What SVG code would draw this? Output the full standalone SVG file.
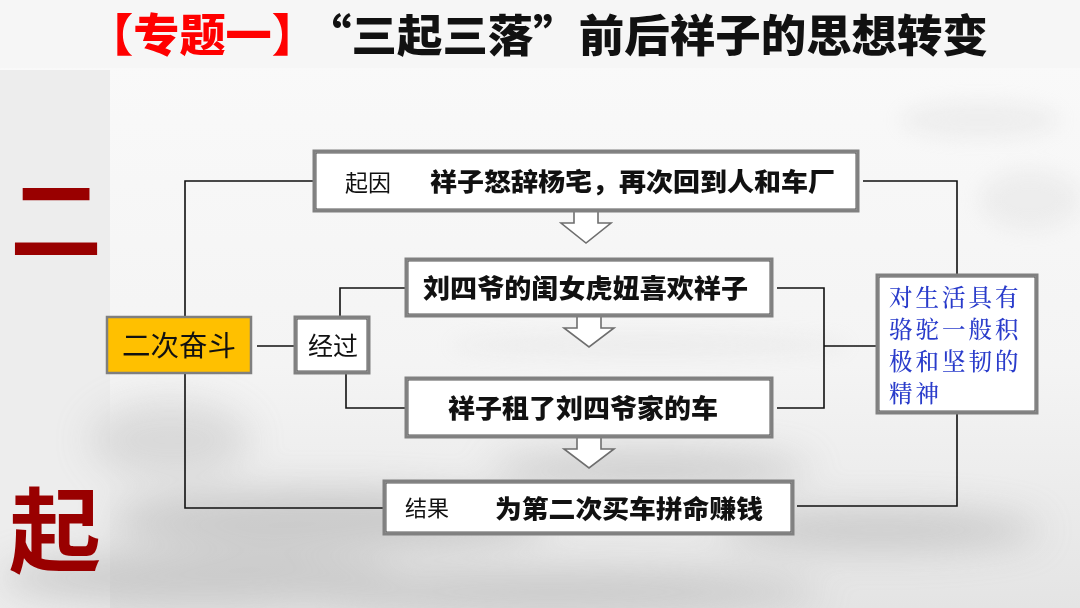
<svg xmlns="http://www.w3.org/2000/svg" width="1080" height="608" viewBox="0 0 1080 608">
<defs>
<style>
.box{fill:#ffffff;stroke:#808080;stroke-width:3}
.inner{fill:none;stroke:#2a2a2a;stroke-width:0.8}
.ln{fill:none;stroke:#111;stroke-width:1.6}
.arr{fill:#ffffff;stroke:#6e6e6e;stroke-width:1.6;stroke-linejoin:miter}
.cn{font-family:"Noto Sans CJK SC","Noto Sans CJK TC",sans-serif;fill:#111}
.b{font-weight:900}
.blue{font-family:"Noto Serif CJK SC","Noto Sans CJK SC",serif;fill:#2a3ccb;font-size:23.5px;letter-spacing:3px;font-weight:500}
</style>
<filter id="blur" x="-50%" y="-50%" width="200%" height="200%"><feGaussianBlur stdDeviation="18"/></filter>
<filter id="blur2" x="-50%" y="-50%" width="200%" height="200%"><feGaussianBlur stdDeviation="10"/></filter>
<linearGradient id="bg" x1="0" y1="0" x2="0" y2="1">
<stop offset="0" stop-color="#fafafa"/><stop offset="0.6" stop-color="#f4f4f4"/><stop offset="1" stop-color="#e4e4e4"/>
</linearGradient>
</defs>
<rect x="0" y="0" width="1080" height="608" fill="url(#bg)"/>
<rect x="0" y="70" width="110" height="538" fill="#ededed"/>
<g filter="url(#blur)" fill="#b5b5b5" opacity="0.6">
<ellipse cx="330" cy="520" rx="220" ry="30"/>
<ellipse cx="200" cy="578" rx="200" ry="25"/>
<ellipse cx="650" cy="470" rx="160" ry="18"/>
<ellipse cx="880" cy="530" rx="160" ry="20"/>
<ellipse cx="560" cy="592" rx="260" ry="20"/>
<ellipse cx="170" cy="440" rx="80" ry="40" opacity="0.6"/>
</g>
<g filter="url(#blur2)" fill="#d8d8d8" opacity="0.3">
<ellipse cx="650" cy="345" rx="200" ry="10"/>
<ellipse cx="980" cy="120" rx="80" ry="18"/>
<ellipse cx="1030" cy="200" rx="50" ry="30"/>
</g>
<rect x="0" y="0" width="1080" height="68" fill="#f6f6f6"/>

<g id="title">
<text class="cn" x="87" y="52" font-size="45" fill="#ff0000" style="fill:#ff0000" font-weight="900" textLength="231" lengthAdjust="spacingAndGlyphs">【专题一】</text>
<text class="cn" x="306" y="52" font-size="44" font-weight="900" textLength="682" lengthAdjust="spacingAndGlyphs">“三起三落”前后祥子的思想转变</text>
</g>
<g id="side">
<text x="56" y="254" font-size="92" text-anchor="middle" font-weight="bold" font-family="Noto Sans CJK SC,sans-serif" fill="#990000">二</text>
<text x="55" y="565" font-size="92" text-anchor="middle" font-weight="bold" font-family="Noto Sans CJK SC,sans-serif" fill="#990000">起</text>
</g>

<g id="connectors">
<polyline class="ln" points="314,181 185,181 185,508 384,508"/>
<line class="ln" x1="257" y1="346" x2="295" y2="346"/>
<polyline class="ln" points="340,317 340,288 406,288"/>
<polyline class="ln" points="346,373 346,408 406,408"/>
<polyline class="ln" points="777,288 824,288 824,408 777,408"/>
<line class="ln" x1="824" y1="346" x2="877" y2="346"/>
<polyline class="ln" points="863,181 957,181 957,275"/>
<polyline class="ln" points="957,413 957,506 797,506"/>
<polygon class="arr" points="574,211 598,211 598,223 611,223 586,243 561,223 574,223"/>
<polygon class="arr" points="577,316 601,316 601,328 614,328 589,347 564,328 577,328"/>
<polygon class="arr" points="577,437 601,437 601,449 614,449 589,468 564,449 577,449"/>
</g>

<g id="n-cause">
<rect class="box" x="314" y="151" width="544" height="60"/>
<rect class="inner" x="316" y="153" width="540" height="56"/>
<text class="cn" x="345" y="191" font-size="23">起因</text>
<text class="cn b" x="430" y="191" font-size="25.5" textLength="405" lengthAdjust="spacingAndGlyphs">祥子怒辞杨宅，再次回到人和车厂</text>
</g>
<g id="n-huniu">
<rect class="box" x="406" y="259" width="366" height="57"/>
<rect class="inner" x="408" y="261" width="362" height="53"/>
<text class="cn b" x="423" y="298" font-size="26" textLength="325" lengthAdjust="spacingAndGlyphs">刘四爷的闺女虎妞喜欢祥子</text>
</g>
<g id="n-rent">
<rect class="box" x="406" y="378" width="366" height="59"/>
<rect class="inner" x="408" y="380" width="362" height="55"/>
<text class="cn b" x="448" y="418" font-size="26" textLength="270" lengthAdjust="spacingAndGlyphs">祥子租了刘四爷家的车</text>
</g>
<g id="n-result">
<rect class="box" x="384" y="481" width="409" height="53"/>
<rect class="inner" x="386" y="483" width="405" height="49"/>
<text class="cn" x="405" y="516" font-size="22">结果</text>
<text class="cn b" x="495" y="518" font-size="25" textLength="268" lengthAdjust="spacingAndGlyphs">为第二次买车拼命赚钱</text>
</g>
<g id="n-struggle">
<rect x="107" y="317" width="144" height="56" fill="#ffc000" stroke="#7f7f7f" stroke-width="2.5"/>
<text class="cn" x="179" y="356" font-size="28.5" text-anchor="middle">二次奋斗</text>
</g>
<g id="n-process">
<rect class="box" x="295" y="317" width="74" height="56"/>
<rect class="inner" x="297" y="319" width="70" height="52"/>
<text class="cn" x="333" y="355" font-size="25" text-anchor="middle">经过</text>
</g>
<g id="n-spirit">
<rect class="box" x="877" y="275" width="160" height="138"/>
<rect class="inner" x="879" y="277" width="156" height="134"/>
<text class="blue" x="889" y="306">对生活具有</text>
<text class="blue" x="889" y="338">骆驼一般积</text>
<text class="blue" x="889" y="370">极和坚韧的</text>
<text class="blue" x="889" y="402">精神</text>
</g>
</svg>
